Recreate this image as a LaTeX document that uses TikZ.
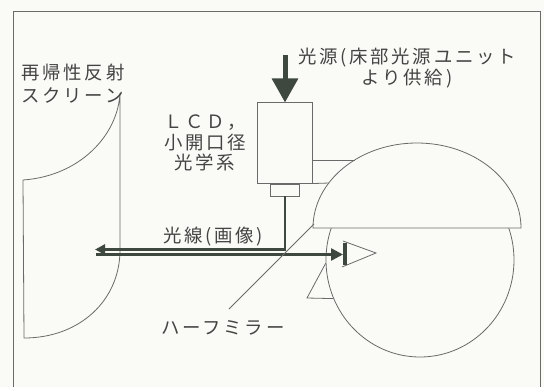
\documentclass[tikz,border=0pt]{standalone}
\usepackage{fontspec}
\newfontfamily\jpfont{Noto Sans CJK JP}[LetterSpace=15]
\usetikzlibrary{arrows.meta,positioning,shapes.geometric}
\definecolor{inkgray}{HTML}{444444}
\definecolor{linegray}{HTML}{6A6A6A}
\definecolor{beamgray}{HTML}{3E483F}
\definecolor{paper}{HTML}{FAFAF6}

\begin{document}
\begin{tikzpicture}[x=0.75pt,y=0.75pt,yscale=-1,xscale=1,
        outline/.style={draw=linegray,line width=0.6pt},
        beam/.style={draw=beamgray,line width=1.9pt},
        jptext/.style={text=inkgray,inner sep=0pt,align=center,font=\jpfont\fontsize{13.8pt}{15.5pt}\selectfont}]
        \fill[paper] (0,0) rectangle (544,387);
        \useasboundingbox (0,0) rectangle (544,387);
        \draw[outline] (13,387) -- (13,11) -- (540,11) -- (540,387);

        \draw[outline] (120,93) -- (120,250) .. controls (120,300) and (80,338) .. (24,338) -- (23,180) .. controls (80,176) and (118,135) .. (120,93) -- cycle;

        \node[outline, ellipse, inner sep=0pt, minimum width=141pt, minimum height=145.5pt] (head) at (420,260) {};
        \draw[outline] (head.182) -- (307,298) -- (head.204);
        \draw[outline, fill=paper] (313,228) arc[start angle=180, end angle=360, x radius=104, y radius=85] -- cycle;

        \node[outline, minimum width=41.25pt, minimum height=60.2pt, inner sep=0pt] (lcd) at (285,143) {};
        \node[outline, minimum width=22pt, minimum height=9pt, inner sep=0pt, below=0pt of lcd] (lens) {};
        \coordinate (arm1) at (355,160);
        \coordinate (arm2) at (329,183);
        \draw[outline] (arm1 -| lcd.east) -- (arm1);
        \draw[outline] (lcd.south east) -- (arm2);

        \coordinate (src) at (285,55);
        \draw[beamgray, line width=3.75pt, -{Triangle[length=18pt,width=19pt]}] (src) -- (lcd.north);

        \coordinate (turn) at (285,249.5);
        \coordinate (onscreen) at (95,249.5);
        \coordinate (fromscreen) at (96,254.5);
        \coordinate (pupil) at (343,254.5);
        \draw[beam, -{Triangle[length=7.5pt,width=7.5pt]}] (lens.south) -- (turn) -- (onscreen);
        \draw[beam, -{Triangle[length=9pt,width=9pt]}] (fromscreen) -- (pupil);

        \draw[outline] (343,241) -- (376,253) -- (342,267);
        \draw[beamgray, line width=3pt] (345,243) -- (345,265);

        \draw[outline] (314,224) -- (229,309);

        \node[jptext, align=left, font=\jpfont\fontsize{13.8pt}{17pt}\selectfont] (screenlbl) at (73,83.5) {再帰性反射\\スクリーン};
        \node[jptext] (lcdlbl) at (205,143) {ＬＣＤ，\\小開口径\\光学系};
        \node[jptext] (srclbl) at (407,68) {光源(床部光源ユニット\\より供給)};
        \node[jptext] (beamlbl) at (213,237) {光線(画像)};
        \node[jptext] (mirrorlbl) at (223,328) {ハーフミラー};
    \end{tikzpicture}
\end{document}
